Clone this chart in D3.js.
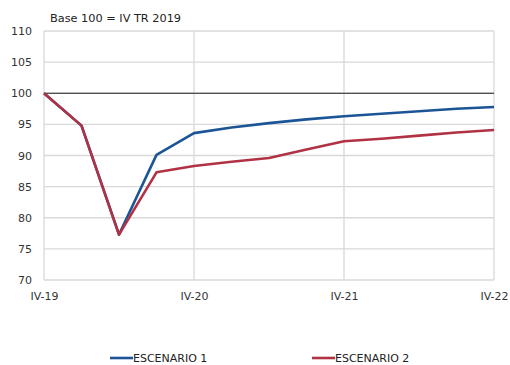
<!DOCTYPE html>
<html>
<head>
<meta charset="utf-8">
<script src="https://cdn.jsdelivr.net/npm/d3@7"></script>
<style>
  html, body { margin: 0; padding: 0; background: #fff; }
  svg { display: block; font-family: "DejaVu Sans", Arial, sans-serif; }
</style>
</head>
<body>
<svg id="chart" width="510" height="365"></svg>
<script>
// Quarterly index (base 100 = IV TR 2019), quarters 0..12 from IV-19 to IV-22
const quarters = d3.range(0, 13);
const escenario1 = [100, 94.8, 77.3, 90.1, 93.6, 94.5, 95.2, 95.8, 96.3, 96.7, 97.1, 97.5, 97.8];
const escenario2 = [100, 94.8, 77.3, 87.3, 88.3, 89.0, 89.6, 90.95, 92.3, 92.7, 93.2, 93.7, 94.1];
const yTicks = [70, 75, 80, 85, 90, 95, 100, 105, 110];
const xTickQuarters = [0, 4, 8, 12];
const xTickLabels = ["IV-19", "IV-20", "IV-21", "IV-22"];
const seriesNames = ["ESCENARIO 1", "ESCENARIO 2"];
const seriesColors = ["#1c5596", "#b03244"];
const subtitle = "Base 100 = IV TR 2019";

const svg = d3.select("#chart");
const plotLeft = 44, plotRight = 494, plotTop = 31, plotBottom = 280;
const FONT = "DejaVu Sans, Arial, sans-serif";

const x = d3.scaleLinear().domain([0, 12]).range([plotLeft, plotRight]);
const y = d3.scaleLinear().domain([70, 110]).range([plotBottom, plotTop]);

// horizontal gridlines
svg.append("g").selectAll("line").data(yTicks).join("line")
  .attr("x1", plotLeft).attr("x2", plotRight)
  .attr("y1", d => y(d)).attr("y2", d => y(d))
  .attr("stroke", "#d9d9d9").attr("stroke-width", 1.3);

// vertical gridlines
svg.append("g").selectAll("line").data(xTickQuarters).join("line")
  .attr("x1", d => x(d)).attr("x2", d => x(d))
  .attr("y1", plotTop).attr("y2", plotBottom)
  .attr("stroke", "#d9d9d9").attr("stroke-width", 1.3);

// base-100 reference line
svg.append("line")
  .attr("x1", plotLeft).attr("x2", plotRight)
  .attr("y1", y(100)).attr("y2", y(100))
  .attr("stroke", "#222").attr("stroke-width", 1.2);

// y axis labels
const yAxis = d3.axisLeft(y).tickValues(yTicks).tickSize(0).tickPadding(12);
svg.append("g").attr("transform", `translate(${plotLeft},0)`).call(yAxis)
  .call(g => g.select(".domain").remove())
  .selectAll("text").attr("font-size", 11).attr("fill", "#333")
  .attr("font-family", FONT);

// x axis labels
const xAxis = d3.axisBottom(x).tickValues(xTickQuarters)
  .tickFormat((d, i) => xTickLabels[i]).tickSize(0).tickPadding(12);
svg.append("g").attr("transform", `translate(0,${plotBottom})`).call(xAxis)
  .call(g => g.select(".domain").remove())
  .selectAll("text").attr("font-size", 11).attr("fill", "#333")
  .attr("font-family", FONT);

// series lines (scenario 1 underneath, scenario 2 on top)
const line = d3.line().x((d, i) => x(quarters[i])).y(d => y(d));
[[escenario1, seriesColors[0]], [escenario2, seriesColors[1]]].forEach(([vals, color]) => {
  svg.append("path").datum(vals)
    .attr("d", line)
    .attr("fill", "none")
    .attr("stroke", color)
    .attr("stroke-width", 2.6)
    .attr("stroke-linejoin", "round");
});

// subtitle
svg.append("text").attr("x", 50).attr("y", 22)
  .attr("font-family", FONT)
  .attr("font-size", 11.3).attr("fill", "#222").text(subtitle);

// legend
const legendX = [110, 312];
seriesNames.forEach((name, i) => {
  const g = svg.append("g").attr("transform", `translate(${legendX[i]},358)`);
  g.append("line").attr("x1", 0).attr("x2", 23).attr("y1", 0).attr("y2", 0)
    .attr("stroke", seriesColors[i]).attr("stroke-width", 2.6);
  g.append("text").attr("x", 23).attr("y", 4)
    .attr("font-family", FONT)
    .attr("font-size", 11).attr("fill", "#222").text(name);
});
</script>
</body>
</html>
